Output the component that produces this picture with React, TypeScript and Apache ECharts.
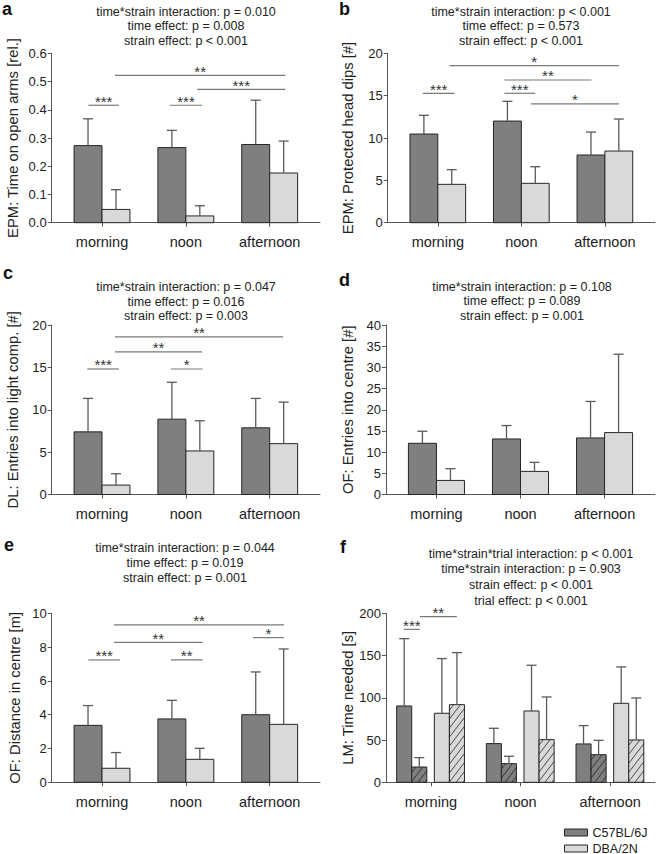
import React, { useEffect, useRef } from 'react';
import * as echarts from 'echarts';

const categories = ['morning', 'noon', 'afternoon'];

// ---- panel a: EPM time on open arms
const aTitle = ['time*strain interaction: p = 0.010', 'time effect: p = 0.008', 'strain effect: p < 0.001'];
const aC57Mean = [0.273, 0.266, 0.277];
const aC57Sd = [0.095, 0.061, 0.157];
const aDbaMean = [0.047, 0.024, 0.176];
const aDbaSd = [0.070, 0.036, 0.113];
const aSig: [number, number, number, string][] = [
  [-0.163, 0.202, 0.416, '***'], [0.81, 1.194, 0.416, '***'], [0.155, 2.187, 0.522, '**'], [1.135, 2.187, 0.472, '***'],
];

// ---- panel b: EPM protected head dips
const bTitle = ['time*strain interaction: p < 0.001', 'time effect: p = 0.573', 'strain effect: p < 0.001'];
const bC57Mean = [10.47, 12.0, 7.99];
const bC57Sd = [2.21, 2.33, 2.71];
const bDbaMean = [4.53, 4.65, 8.46];
const bDbaSd = [1.73, 1.96, 3.78];
const bSig: [number, number, number, string][] = [
  [-0.18, 0.2, 15.28, '***'], [0.139, 2.17, 18.54, '*'], [0.796, 1.84, 16.85, '**'], [0.796, 1.166, 15.28, '***'], [1.115, 2.17, 14.02, '*'],
];

// ---- panel c: DL entries into light compartment
const cTitle = ['time*strain interaction: p = 0.047', 'time effect: p = 0.016', 'strain effect: p = 0.003'];
const cC57Mean = [7.39, 8.89, 7.87];
const cC57Sd = [3.95, 4.35, 3.47];
const cDbaMean = [1.11, 5.14, 6.0];
const cDbaSd = [1.34, 3.56, 4.9];
const cSig: [number, number, number, string][] = [
  [-0.175, 0.202, 14.81, '***'], [0.82, 1.2, 14.81, '*'], [0.155, 1.194, 16.82, '**'], [0.155, 2.16, 18.59, '**'],
];

// ---- panel d: OF entries into centre
const dTitle = ['time*strain interaction: p = 0.108', 'time effect: p = 0.089', 'strain effect: p = 0.001'];
const dC57Mean = [12.09, 13.11, 13.35];
const dC57Sd = [2.84, 3.16, 8.61];
const dDbaMean = [3.32, 5.45, 14.61];
const dDbaSd = [2.76, 2.13, 18.49];
const dSig: [number, number, number, string][] = [];

// ---- panel e: OF distance in centre
const eTitle = ['time*strain interaction: p = 0.044', 'time effect: p = 0.019', 'strain effect: p = 0.001'];
const eC57Mean = [3.37, 3.75, 4.0];
const eC57Sd = [1.17, 1.1, 2.53];
const eDbaMean = [0.83, 1.36, 3.43];
const eDbaSd = [0.93, 0.65, 4.46];
const eSig: [number, number, number, string][] = [
  [-0.163, 0.214, 7.24, '***'], [0.82, 1.2, 7.24, '**'], [0.143, 1.2, 8.28, '**'], [0.143, 2.17, 9.31, '**'], [1.8, 2.17, 8.56, '*'],
];

// ---- panel f: LM time needed (trial 1 plain, trial 2 hatched)
const fTitle = ['time*strain*trial interaction: p < 0.001', 'time*strain interaction: p = 0.903', 'strain effect: p < 0.001', 'trial effect: p < 0.001'];
const fC57T1Mean = [90.3, 45.8, 45.4];
const fC57T1Sd = [79.7, 18.1, 21.7];
const fC57T2Mean = [18.1, 22.1, 32.7];
const fC57T2Sd = [11.1, 8.7, 17.0];
const fDbaT1Mean = [81.7, 84.4, 93.5];
const fDbaT1Sd = [64.7, 54.1, 43.0];
const fDbaT2Mean = [91.9, 50.5, 50.1];
const fDbaT2Sd = [61.6, 50.5, 49.7];
const fSig: [number, number, number, string][] = [
  [-0.3, -0.123, 181, '***'], [-0.123, 0.29, 196, '**'],
];

const strainNames = ['C57BL/6J', 'DBA/2N'];

const FONT = "'Liberation Sans', Arial, Helvetica, sans-serif";
const DARK = '#7f7f7f';
const LIGHT = '#d9d9d9';
const EDGE = '#262626';
const ERR = '#5a5a5a';
const SIGC = '#7a7a7a';
const AXIS = '#555555';
const TXT = '#222222';

type Panel = {
  letter: string; letterX: number; letterY: number;
  title: string[]; titleX: number; titleY: number[];
  left: number; top: number; width: number; height: number;
  xMin: number; xMax: number; yMax: number; interval: number; decimals: number;
  yName: string; nameGap: number;
  sig: [number, number, number, string][];
  bars: { name: string; mean: number[]; sd: number[]; offset: number; width: number; fill: string; hatch?: string }[];
};

const panels: Panel[] = [
  {
    letter: 'a', letterX: 2, letterY: 8.5, title: aTitle, titleX: 186, titleY: [11.7, 26, 40.7],
    left: 51.7, top: 53.3, width: 268.3, height: 169.4, xMin: -0.6, xMax: 2.6, yMax: 0.6, interval: 0.1, decimals: 1,
    yName: 'EPM: Time on open arms [rel.]', nameGap: 31, sig: aSig,
    bars: [
      { name: strainNames[0], mean: aC57Mean, sd: aC57Sd, offset: -1 / 6, width: 1 / 3, fill: DARK },
      { name: strainNames[1], mean: aDbaMean, sd: aDbaSd, offset: 1 / 6, width: 1 / 3, fill: LIGHT },
    ],
  },
  {
    letter: 'b', letterX: 339, letterY: 8.5, title: bTitle, titleX: 521, titleY: [11.7, 26, 40.7],
    left: 387.7, top: 53.3, width: 267.3, height: 169.4, xMin: -0.6, xMax: 2.6, yMax: 20, interval: 5, decimals: 0,
    yName: 'EPM: Protected head dips [#]', nameGap: 32.5, sig: bSig,
    bars: [
      { name: strainNames[0], mean: bC57Mean, sd: bC57Sd, offset: -1 / 6, width: 1 / 3, fill: DARK },
      { name: strainNames[1], mean: bDbaMean, sd: bDbaSd, offset: 1 / 6, width: 1 / 3, fill: LIGHT },
    ],
  },
  {
    letter: 'c', letterX: 3, letterY: 272.5, title: cTitle, titleX: 186, titleY: [287, 301.5, 316],
    left: 51.7, top: 325, width: 268.3, height: 169.5, xMin: -0.6, xMax: 2.6, yMax: 20, interval: 5, decimals: 0,
    yName: 'DL: Entries into light comp. [#]', nameGap: 31, sig: cSig,
    bars: [
      { name: strainNames[0], mean: cC57Mean, sd: cC57Sd, offset: -1 / 6, width: 1 / 3, fill: DARK },
      { name: strainNames[1], mean: cDbaMean, sd: cDbaSd, offset: 1 / 6, width: 1 / 3, fill: LIGHT },
    ],
  },
  {
    letter: 'd', letterX: 339, letterY: 279.5, title: dTitle, titleX: 522, titleY: [287, 301, 315.5],
    left: 386, top: 325, width: 269, height: 169.5, xMin: -0.6, xMax: 2.6, yMax: 40, interval: 5, decimals: 0,
    yName: 'OF: Entries into centre [#]', nameGap: 31, sig: dSig,
    bars: [
      { name: strainNames[0], mean: dC57Mean, sd: dC57Sd, offset: -1 / 6, width: 1 / 3, fill: DARK },
      { name: strainNames[1], mean: dDbaMean, sd: dDbaSd, offset: 1 / 6, width: 1 / 3, fill: LIGHT },
    ],
  },
  {
    letter: 'e', letterX: 4, letterY: 545, title: eTitle, titleX: 185, titleY: [548, 563, 578],
    left: 51.7, top: 613.3, width: 268.3, height: 169, xMin: -0.6, xMax: 2.6, yMax: 10, interval: 2, decimals: 0,
    yName: 'OF: Distance in centre [m]', nameGap: 29.5, sig: eSig,
    bars: [
      { name: strainNames[0], mean: eC57Mean, sd: eC57Sd, offset: -1 / 6, width: 1 / 3, fill: DARK },
      { name: strainNames[1], mean: eDbaMean, sd: eDbaSd, offset: 1 / 6, width: 1 / 3, fill: LIGHT },
    ],
  },
  {
    letter: 'f', letterX: 340, letterY: 547, title: fTitle, titleX: 531, titleY: [553.5, 569, 585, 600.5],
    left: 386, top: 613.3, width: 269, height: 169, xMin: -0.5, xMax: 2.5, yMax: 200, interval: 50, decimals: 0,
    yName: 'LM: Time needed [s]', nameGap: 31, sig: fSig,
    bars: [
      { name: strainNames[0], mean: fC57T1Mean, sd: fC57T1Sd, offset: -0.297, width: 0.168, fill: DARK },
      { name: strainNames[0] + ' (trial 2)', mean: fC57T2Mean, sd: fC57T2Sd, offset: -0.129, width: 0.168, fill: DARK, hatch: '#2a2a2a' },
      { name: strainNames[1], mean: fDbaT1Mean, sd: fDbaT1Sd, offset: 0.123, width: 0.168, fill: LIGHT },
      { name: strainNames[1] + ' (trial 2)', mean: fDbaT2Mean, sd: fDbaT2Sd, offset: 0.291, width: 0.168, fill: LIGHT, hatch: '#3a3a3a' },
    ],
  },
];

function hatchLines(x0: number, x1: number, y0: number, y1: number, color: string) {
  const k = 1.3;
  const step = 9;
  const out: any[] = [];
  const cMin = k * x0 + y0;
  const cMax = k * x1 + y1;
  for (let c = cMin + step * 0.6; c < cMax; c += step) {
    const yl = Math.min(y1, c - k * x0);
    const xl = (c - yl) / k;
    const yu = Math.max(y0, c - k * x1);
    const xu = (c - yu) / k;
    if (yl - yu > 0.5) {
      out.push({ type: 'line', shape: { x1: xl, y1: yl, x2: xu, y2: yu }, style: { stroke: color, lineWidth: 0.9 } });
    }
  }
  return out;
}

function buildOption() {
  const grid: any[] = [];
  const xAxis: any[] = [];
  const yAxis: any[] = [];
  const series: any[] = [];
  const graphic: any[] = [];

  panels.forEach((p, gi) => {
    grid.push({ left: p.left, top: p.top, width: p.width, height: p.height, containLabel: false, outerBoundsMode: 'none' });
    xAxis.push({
      type: 'value', gridIndex: gi, min: p.xMin, max: p.xMax,
      axisLine: { show: true, onZero: false, lineStyle: { color: AXIS, width: 1 } },
      axisTick: { show: true, length: 4, customValues: [0, 1, 2], lineStyle: { color: AXIS } },
      axisLabel: {
        show: true, customValues: [0, 1, 2], margin: 12, fontSize: 14.5, color: TXT, fontFamily: FONT,
        formatter: (v: number) => categories[Math.round(v)] ?? '',
      },
      splitLine: { show: false },
    });
    yAxis.push({
      type: 'value', gridIndex: gi, min: 0, max: p.yMax, interval: p.interval,
      axisLine: { show: true, onZero: false, lineStyle: { color: AXIS, width: 1 } },
      axisTick: { show: true, length: 4, lineStyle: { color: AXIS } },
      axisLabel: { show: true, margin: 5, fontSize: 13, color: TXT, fontFamily: FONT, formatter: (v: number) => v.toFixed(p.decimals) },
      splitLine: { show: false },
      name: p.yName, nameLocation: 'middle', nameGap: p.nameGap,
      nameTextStyle: { fontSize: 14.8, color: TXT, fontFamily: FONT },
    });

    p.bars.forEach((b) => {
      series.push({
        type: 'custom', name: b.name, xAxisIndex: gi, yAxisIndex: gi, coordinateSystem: 'cartesian2d',
        itemStyle: { color: b.fill, borderColor: EDGE, borderWidth: 1 },
        encode: { x: 0, y: 1 },
        data: b.mean.map((m, i) => [i, m, b.sd[i]]),
        renderItem: (_params: any, api: any) => {
          const i = api.value(0);
          const m = api.value(1);
          const s = api.value(2);
          const pl = api.coord([i + b.offset - b.width / 2, 0]);
          const pr = api.coord([i + b.offset + b.width / 2, m]);
          const pe = api.coord([i + b.offset, m + s]);
          const x0 = pl[0], x1 = pr[0], yb = pl[1], yt = pr[1];
          const xc = (x0 + x1) / 2;
          const children: any[] = [];
          children.push({ type: 'rect', shape: { x: x0, y: yt, width: x1 - x0, height: yb - yt }, style: { fill: b.fill, stroke: null } });
          if (b.hatch) children.push(...hatchLines(x0, x1, yt, yb, b.hatch));
          children.push({ type: 'rect', shape: { x: x0, y: yt, width: x1 - x0, height: yb - yt }, style: { fill: 'none', stroke: EDGE, lineWidth: 1 } });
          children.push({ type: 'line', shape: { x1: xc, y1: yt, x2: xc, y2: pe[1] }, style: { stroke: ERR, lineWidth: 1.3 } });
          children.push({ type: 'line', shape: { x1: xc - 5, y1: pe[1], x2: xc + 5, y2: pe[1] }, style: { stroke: ERR, lineWidth: 1.3 } });
          return { type: 'group', children };
        },
      });
    });

    if (p.sig.length) {
      series.push({
        type: 'custom', name: 'sig' + gi, xAxisIndex: gi, yAxisIndex: gi, coordinateSystem: 'cartesian2d',
        encode: { x: [0, 1], y: 2 },
        data: p.sig.map((s) => [s[0], s[1], s[2]]),
        renderItem: (params: any, api: any) => {
          const a = api.coord([api.value(0), api.value(2)]);
          const c = api.coord([api.value(1), api.value(2)]);
          const label = p.sig[params.dataIndex][3];
          return {
            type: 'group',
            children: [
              { type: 'line', shape: { x1: a[0], y1: a[1], x2: c[0], y2: c[1] }, style: { stroke: SIGC, lineWidth: 1.2 } },
              {
                type: 'text', x: (a[0] + c[0]) / 2, y: a[1] - 4,
                style: { text: label, fontSize: 15, fontFamily: FONT, fill: '#333', align: 'center', verticalAlign: 'middle' },
              },
            ],
          };
        },
      });
    }

    graphic.push({
      type: 'text', x: p.letterX, y: p.letterY,
      style: { text: p.letter, fontSize: 18, fontWeight: 'bold', fontFamily: FONT, fill: '#111', align: 'left', verticalAlign: 'middle' },
    });
    p.title.forEach((t, li) => {
      graphic.push({
        type: 'text', x: p.titleX, y: p.titleY[li],
        style: { text: t, fontSize: 12.5, fontFamily: FONT, fill: TXT, align: 'center', verticalAlign: 'middle' },
      });
    });
  });

  const legendCommon = {
    orient: 'horizontal', left: 564, itemWidth: 23, itemHeight: 7, selectedMode: false, padding: 0,
    textStyle: { fontSize: 12.5, color: TXT, fontFamily: FONT },
  };

  return {
    animation: false,
    backgroundColor: '#ffffff',
    textStyle: { fontFamily: FONT },
    grid, xAxis, yAxis, series, graphic,
    legend: [
      {
        ...legendCommon, top: 826,
        data: [{ name: strainNames[0], icon: 'rect', itemStyle: { color: DARK, borderColor: EDGE, borderWidth: 1 } }],
      },
      {
        ...legendCommon, top: 842,
        data: [{ name: strainNames[1], icon: 'rect', itemStyle: { color: LIGHT, borderColor: EDGE, borderWidth: 1 } }],
      },
    ],
  };
}

export default function App() {
  const ref = useRef<HTMLDivElement>(null);
  useEffect(() => {
    if (!ref.current) return;
    const chart = echarts.init(ref.current, null, { renderer: 'svg' });
    chart.setOption(buildOption() as any);
    return () => chart.dispose();
  }, []);
  return <div ref={ref} style={{ position: 'absolute', left: 0, top: 0, width: 656, height: 854 }} />;
}
